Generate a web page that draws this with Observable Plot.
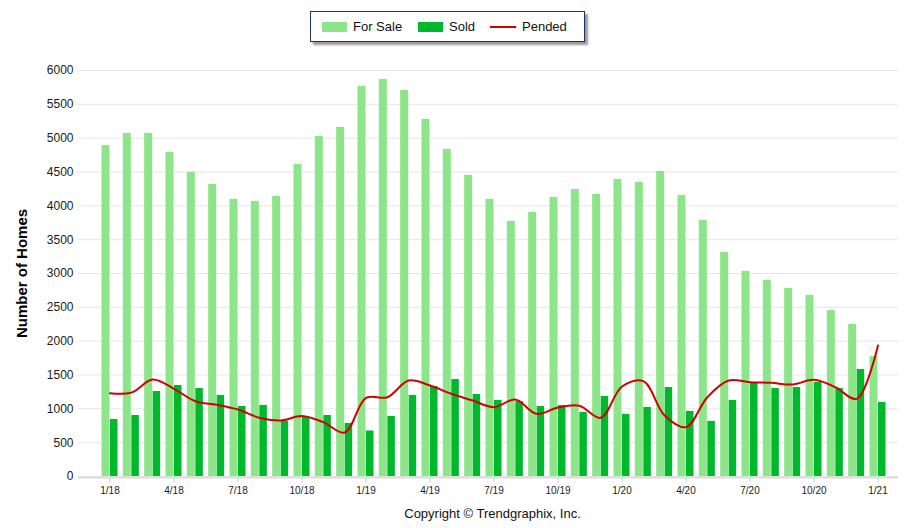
<!DOCTYPE html>
<html>
<head>
<meta charset="utf-8">
<script src="https://cdn.jsdelivr.net/npm/d3@7"></script>
<script src="https://cdn.jsdelivr.net/npm/@observablehq/plot@0.6"></script>
<style>
  html, body { margin: 0; padding: 0; background: #fff; }
  #wrap { position: relative; width: 923px; height: 528px; font-family: "Liberation Sans", Arial, sans-serif; }
  #legend { position: absolute; left: 310px; top: 11px; width: 273px; height: 29px; border: 1.5px solid #1f3466; background: #fff; box-shadow: 3px 3px 2px #9a9a9a; font-size: 13px; color: #111; }
  .item { position: absolute; top: 7px; display: flex; align-items: center; }
  .sw { width: 25px; height: 10px; margin-right: 6px; }
  .ln { width: 26px; height: 2px; background: #d40000; margin-right: 6px; }
  #chart { position: absolute; left: 0; top: 50px; }
  #copy { position: absolute; left: 0; width: 923px; top: 506px; text-align: center; font-size: 13px; color: #111; padding-left: 62px; box-sizing: border-box; }
</style>
</head>
<body>
<div id="wrap">
  <div id="legend">
    <div class="item" style="left:11px"><div class="sw" style="background:#8de58a"></div>For Sale</div>
    <div class="item" style="left:107px"><div class="sw" style="background:#00b82b"></div>Sold</div>
    <div class="item" style="left:179px"><div class="ln"></div>Pended</div>
  </div>
  <div id="chart"></div>
  <div id="copy">Copyright © Trendgraphix, Inc.</div>
</div>
<script>
const months = ["1/18","2/18","3/18","4/18","5/18","6/18","7/18","8/18","9/18","10/18","11/18","12/18",
  "1/19","2/19","3/19","4/19","5/19","6/19","7/19","8/19","9/19","10/19","11/19","12/19",
  "1/20","2/20","3/20","4/20","5/20","6/20","7/20","8/20","9/20","10/20","11/20","12/20","1/21"];
const forSale = [4890,5070,5070,4790,4495,4315,4095,4065,4140,4612,5025,5160,
  5765,5868,5705,5278,4835,4450,4095,3770,3902,4125,4242,4168,
  4390,4346,4508,4155,3785,3312,3032,2898,2780,2676,2454,2248,1775];
const sold = [842,902,1256,1345,1300,1198,1036,1050,818,878,902,784,
  672,888,1198,1330,1434,1212,1124,1108,1036,1050,947,1182,
  917,1020,1315,962,814,1124,1390,1300,1315,1390,1300,1582,1095];
const pended = [1232,1240,1433,1296,1113,1060,990,867,828,895,803,650,
  1163,1172,1418,1345,1222,1123,1025,1138,926,1020,1045,867,
  1330,1409,901,729,1172,1418,1394,1384,1360,1429,1320,1148,1936];
const xTicks = months.filter((d, i) => i % 3 === 0);
const yTicks = d3.range(0, 6001, 500);

const data = months.map((m, i) => ({month: m, forSale: forSale[i], sold: sold[i], pended: pended[i]}));

const chart = Plot.plot({
  width: 923,
  height: 456,
  marginTop: 20,
  marginLeft: 78,
  marginRight: 25,
  marginBottom: 30,
  style: {fontFamily: "Liberation Sans, Arial, sans-serif", background: "#fff"},
  x: {domain: months, type: "band", paddingInner: 0.25, paddingOuter: 0, round: false, range: [101.5, 885.5], label: null},
  y: {domain: [0, 6000], label: null},
  marks: [
    Plot.gridY(yTicks, {stroke: "#e6e6e6", strokeOpacity: 1, strokeWidth: 1}),
    Plot.barY(data, {x: "month", y: "forSale", fill: "#8de58a", insetRight: 8}),
    Plot.barY(data, {x: "month", y: "sold", fill: "#00b82b", insetLeft: 8.5}),
    Plot.ruleY([0], {stroke: "#dcdcdc", strokeWidth: 2, dy: 1}),
    Plot.line(data, {x: "month", y: "pended", stroke: "#d40000", strokeWidth: 2, curve: "catmull-rom"}),
    Plot.axisY(yTicks, {tickSize: 0, tickPadding: 5, fontSize: 12, fill: "#1a1a1a", label: null, tickFormat: d => String(d)}),
    Plot.axisX(xTicks, {tickSize: 4, stroke: "#cccccc", tickPadding: 4, fontSize: 10, fill: "#1a1a1a", label: null, dy: 2}),
    Plot.text(["Number of Homes"], {frameAnchor: "left", dx: -56, rotate: -90, textAnchor: "middle", fontSize: 15, fontWeight: "bold", fill: "#000"})
  ]
});
document.getElementById("chart").appendChild(chart);
</script>
</body>
</html>
